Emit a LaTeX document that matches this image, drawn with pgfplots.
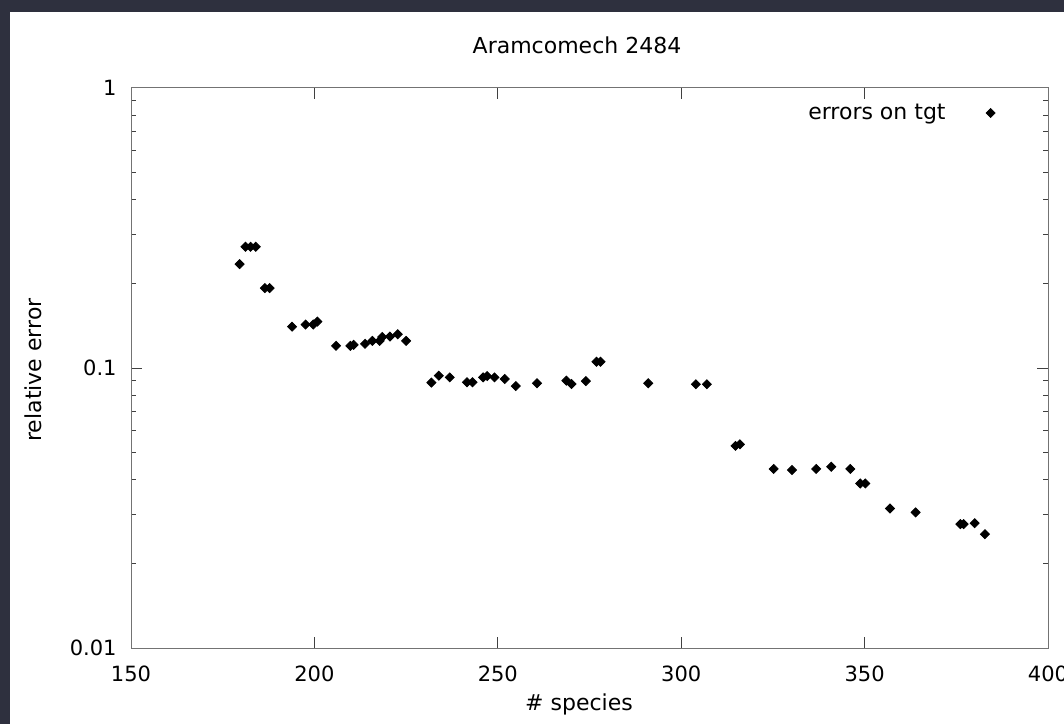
\documentclass[border=0pt]{standalone}
\usepackage{pgfplots}
\pgfplotsset{compat=1.18}
\usepackage{fontspec}
\setmainfont{DejaVu Sans}
\definecolor{bgdark}{RGB}{46,48,62}
\definecolor{framegray}{RGB}{115,115,115}
\pgfplotstableread{
x y
179.6 0.235
181.2 0.271
182.6 0.271
184.0 0.271
186.5 0.193
187.8 0.193
193.9 0.1405
197.6 0.143
199.7 0.143
200.8 0.1465
205.9 0.120
209.8 0.120
210.7 0.121
213.8 0.122
215.8 0.125
217.8 0.125
218.5 0.129
220.6 0.1295
222.7 0.132
225.0 0.125
231.9 0.0887
233.9 0.0939
236.9 0.0926
241.6 0.0889
243.1 0.0889
246.0 0.0926
247.1 0.0936
249.1 0.0926
251.9 0.0914
254.9 0.0862
260.7 0.0882
268.7 0.0901
270.1 0.0877
274.0 0.0898
276.9 0.1053
278.0 0.1053
291.0 0.0882
304.0 0.0875
307.0 0.0875
314.8 0.0527
316.0 0.0534
325.2 0.0436
330.2 0.0432
336.8 0.0436
340.9 0.0444
346.1 0.0436
348.8 0.0387
350.2 0.0387
356.9 0.0315
363.9 0.0305
376.1 0.0277
377.0 0.0277
380.0 0.0279
382.8 0.0255
}\errdata
\begin{document}
\fontsize{11}{13.2}\selectfont
\begin{tikzpicture}[x=0.5pt,y=0.5pt]
\clip (0,0) rectangle (1064,724);
\fill[bgdark] (0,0) rectangle (1064,724);
\fill[white] (10,0) rectangle (1064,712);
\begin{axis}[
  at={(65.5pt,38pt)}, anchor=south west,
  scale only axis, width=458.5pt, height=280pt,
  xmin=150, xmax=400, ymin=0.01, ymax=1, ymode=log,
  xtick={150,200,250,300,350,400},
  xticklabels={150,200,250,300,350,400},
  ytick={0.01,0.1,1}, yticklabels={0.01,0.1,1},
  axis line style={framegray, line width=0.5pt},
  tick style={black!75, line width=0.5pt},
  major tick length=5.5pt, minor tick length=2.5pt,
  tick align=inside,
  tick label style={font=\fontsize{10.5}{12.6}\selectfont},
  xticklabel style={anchor=base, yshift=-16.75pt, inner sep=0pt},
  yticklabel style={anchor=east, inner sep=0pt, xshift=-7pt},
  legend plot pos=right,
  legend style={draw=none, fill=none, at={(0.9433,0.9554)}, anchor=east,
    inner sep=0pt, nodes={inner sep=0pt}, column sep=0pt},
  legend image code/.code={\path[draw=none,fill=none] (0pt,0pt) -- (25pt,0pt); \draw[#1] plot coordinates {(22.5pt,0pt)};},
]
\addplot[only marks, mark=square*, mark size=1.6pt,
  mark options={rotate=45, fill=black, draw=black}] table[x=x,y=y] {\errdata};
\addlegendentry{errors on tgt}
\end{axis}
\node at (577,679) {Aramcomech 2484};
\node at (579,20) {\# species};
\node[rotate=90] at (33,354) {relative error};
\end{tikzpicture}
\end{document}
